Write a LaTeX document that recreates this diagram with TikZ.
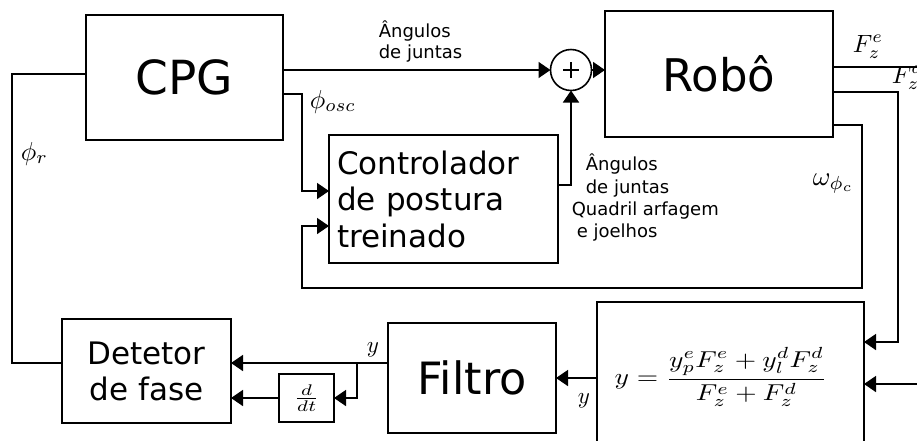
\documentclass[tikz,border=0pt]{standalone}
\usepackage{graphicx}
\usepackage{fontspec}
\setmainfont{DejaVu Sans}
\usetikzlibrary{arrows.meta,calc}
\newcommand\fsz[2]{\fontsize{#1}{#2}\selectfont}
\newcommand\mth[2]{\scalebox{#1}{$#2$}}
\begin{document}
\begin{tikzpicture}[x=1pt,y=-1pt, line width=1.6pt,
  blk/.style={draw, line width=1.6pt, inner sep=0pt, outer sep=0pt},
  arr/.style={-{Triangle[length=12pt,width=16pt]}},
  lab/.style={inner sep=0pt, anchor=base west},
  sl/.style={lab, font=\fsz{18}{21}}]
\useasboundingbox (0,0) rectangle (917,440);

\node[blk, minimum width=197pt, minimum height=125pt, font=\fsz{47}{56}] (cpg) at (184.5,77.5) {CPG};
\node[blk, minimum width=228pt, minimum height=126pt, font=\fsz{45}{54}] (robo) at (719,74) {Robô};
\node[draw, circle, minimum size=41pt, inner sep=0pt, outer sep=0pt, line width=1.6pt] (sum) at (571,70) {};
\draw[line width=1.3pt] ($(sum.center)+(-8,0)$) -- ($(sum.center)+(8,0)$);
\draw[line width=1.3pt] ($(sum.center)+(0,-8)$) -- ($(sum.center)+(0,8)$);
\node[blk, minimum width=229pt, minimum height=128pt, text width=213pt, align=left, font=\fsz{31}{36.5}] (ctrl) at (443.5,199) {Controlador\\de postura\\treinado};
\node[blk, minimum width=169pt, minimum height=104pt, align=center, font=\fsz{31}{36}] (det) at (146.5,371) {Detetor\\de fase};
\node[blk, minimum width=55pt, minimum height=48pt] (ddt) at (306.5,398) {\scalebox{2.7}[2.2]{$\frac{d}{dt}$}};
\node[blk, minimum width=168pt, minimum height=110pt, font=\fsz{44.5}{53}] (filt) at (472,378) {Filtro};
\node[blk, minimum width=267pt, minimum height=148pt] (form) at (730.5,376) {};
\node[inner sep=0pt] (eq) at (721,377) {\scalebox{2.75}[2.3]{$\displaystyle y=\frac{y_p^eF_z^e+y_l^dF_z^d}{F_z^e+F_z^d}$}};

\coordinate (k1) at (302,94);
\coordinate (k2) at (862,288);
\coordinate (k3) at (302,288);
\coordinate (k4) at (898,342);
\coordinate (e1) at (925,67);
\coordinate (e2) at (925,384);
\coordinate (b1) at (357,363);
\coordinate (k5) at (12,363);

\draw[arr] (cpg.east |- sum.west) -- (sum.west);
\draw[arr] (sum.east) -- (sum.east -| robo.west);
\draw[arr] ([yshift=14pt]ctrl.east) -| (sum.south);
\draw[arr] ([yshift=-16.5pt]cpg.east) -- (k1) |- ([yshift=8pt]ctrl.west);
\draw[arr] ([yshift=-51pt]robo.east) -| (k2) -- (k3) |- ([yshift=-27pt]ctrl.west);
\draw ([yshift=7pt]robo.east) -- (e1);
\draw[arr] ([yshift=-18pt]robo.east) -| (k4) -- (k4 -| form.east);
\draw[arr] (e2) -- (e2 -| form.east);
\draw[arr] (form.west |- filt.east) -- (filt.east);
\draw[arr] ([yshift=15pt]filt.west) -- ([yshift=15pt]filt.west -| det.east);
\draw[arr] (b1) |- (ddt.east);
\draw[arr] (ddt.west) -- (ddt.west -| det.east);
\draw (k5 -| det.west) -- (k5) |- ([yshift=3.5pt]cpg.west);

\node[sl] (a1) at (378,37) {Ângulos};
\node[sl] (a2) at (378,58) {de juntas};
\node[sl] (c1) at (585,170) {Ângulos};
\node[sl] (c2) at (585,193) {de juntas};
\node[sl] (c3) at (571,215) {Quadril arfagem};
\node[sl] (c4) at (576,237) {e joelhos};
\node[lab] (posc) at (309,108) {\mth{2.6}{\phi_{osc}}};
\node[lab] (pr) at (20,160) {\mth{2.6}{\phi_r}};
\node[lab] (wpc) at (812,185) {\mth{2.7}{\omega_{\phi_c}}};
\node[lab] (fze) at (852,52) {\mth{2.5}{F_z^e}};
\node[lab] (fzd) at (891,83) {\mth{2.5}{F_z^d}};
\node[lab] (y1) at (366,352) {\mth{2.3}{y}};
\node[lab] (y2) at (577,403) {\mth{2.3}{y}};
\end{tikzpicture}
\end{document}
